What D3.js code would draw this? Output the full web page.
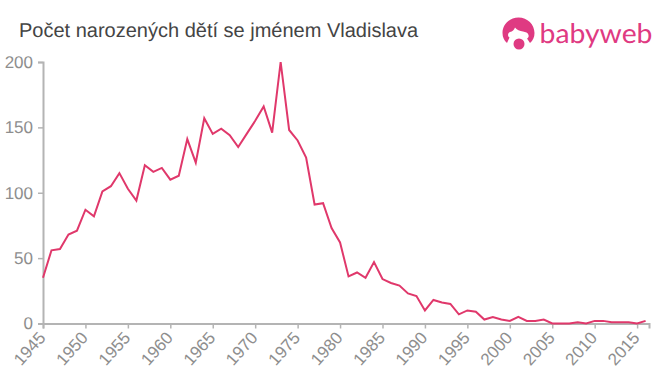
<!DOCTYPE html>
<html><head><meta charset="utf-8">
<script src="https://cdn.jsdelivr.net/npm/d3@7/dist/d3.min.js"></script>
<style>html,body{margin:0;padding:0;background:#fff}svg{display:block}text{font-family:"Liberation Sans",sans-serif;text-rendering:geometricPrecision}</style>
</head><body><svg id="c" width="660" height="375"></svg>
<script>
const title = "Počet narozených dětí se jménem Vladislava";
const years = d3.range(1945, 2017);
const counts = [35,56,57,68,71,87,82,101,105,115,103,94,121,116,119,110,113,141,123,157,145,149,144,135,145,155,166,146,200,148,140,127,91,92,73,62,36,39,35,47,34,31,29,23,21,10,18,16,15,7,10,9,3,5,3,2,5,2,2,3,0,0,0,1,0,2,2,1,1,1,0,2];
const yTicks = [0,50,100,150,200];
const xTicks = d3.range(1945, 2016, 5);

const svg = d3.select("#c");
const x = d3.scaleLinear().domain([1945,2016.4]).range([43,649]);
const y = d3.scaleLinear().domain([0,200]).range([323.5,62]);
const axisC = "#b4b4b4", labelC = "#8e8e8e", lineC = "#e0386b";

svg.append("text").attr("x",19).attr("y",37).attr("font-size",20).attr("fill","#444").text(title);

const yAxis = svg.append("g").attr("transform","translate(43,0)").call(d3.axisLeft(y).tickValues(yTicks).tickSize(5).tickPadding(5));
const xAxis = svg.append("g").attr("transform","translate(0,323.5)").call(d3.axisBottom(x).tickValues(xTicks).tickFormat(d3.format("d")).tickSize(5));
for (const a of [yAxis,xAxis]) {
  a.selectAll("path").attr("stroke",axisC).attr("stroke-width",2);
  a.selectAll("line").attr("stroke",axisC).attr("stroke-width",1.5);
  a.selectAll("text").attr("fill",labelC).attr("font-size",17).attr("font-family",'"Liberation Sans",sans-serif');
}
yAxis.selectAll("text").attr("dy","0.32em");
xAxis.selectAll("text").attr("text-anchor","end").attr("dy",0).attr("y",0)
  .attr("transform","translate(3,15) rotate(-48)");

svg.append("path").datum(counts)
  .attr("fill","none").attr("stroke",lineC).attr("stroke-width",2).attr("stroke-linejoin","miter")
  .attr("d",d3.line().x((d,i)=>x(years[i])).y(d=>y(d)));

// logo
const logo = svg.append("g").attr("fill","#df3a82");
logo.append("path").attr("d",
 "M518.5 17.5 C509.5 17.5 502.5 24.5 502.5 33 C502.5 37 504 40.5 507 43 L509.5 37.5 C507.5 36.5 507.5 33 510 32 C512.5 31.5 514 30 515 27.5 C516.5 30 520 31 523 31.5 C525.5 32 528 32.5 528.5 35 C529 37 528 38 527 38.5 L530 43 C533 40.5 534.5 37 534.5 33 C534.5 24.5 527.5 17.5 518.5 17.5 Z");
logo.append("circle").attr("cx",519).attr("cy",44).attr("r",5.5);
svg.append("text").attr("x",539.5).attr("y",43).attr("font-size",27).attr("textLength",113).attr("lengthAdjust","spacingAndGlyphs")
  .attr("fill","#df3a82").style("font-family","Lato,sans-serif").text("babyweb");
</script></body></html>
